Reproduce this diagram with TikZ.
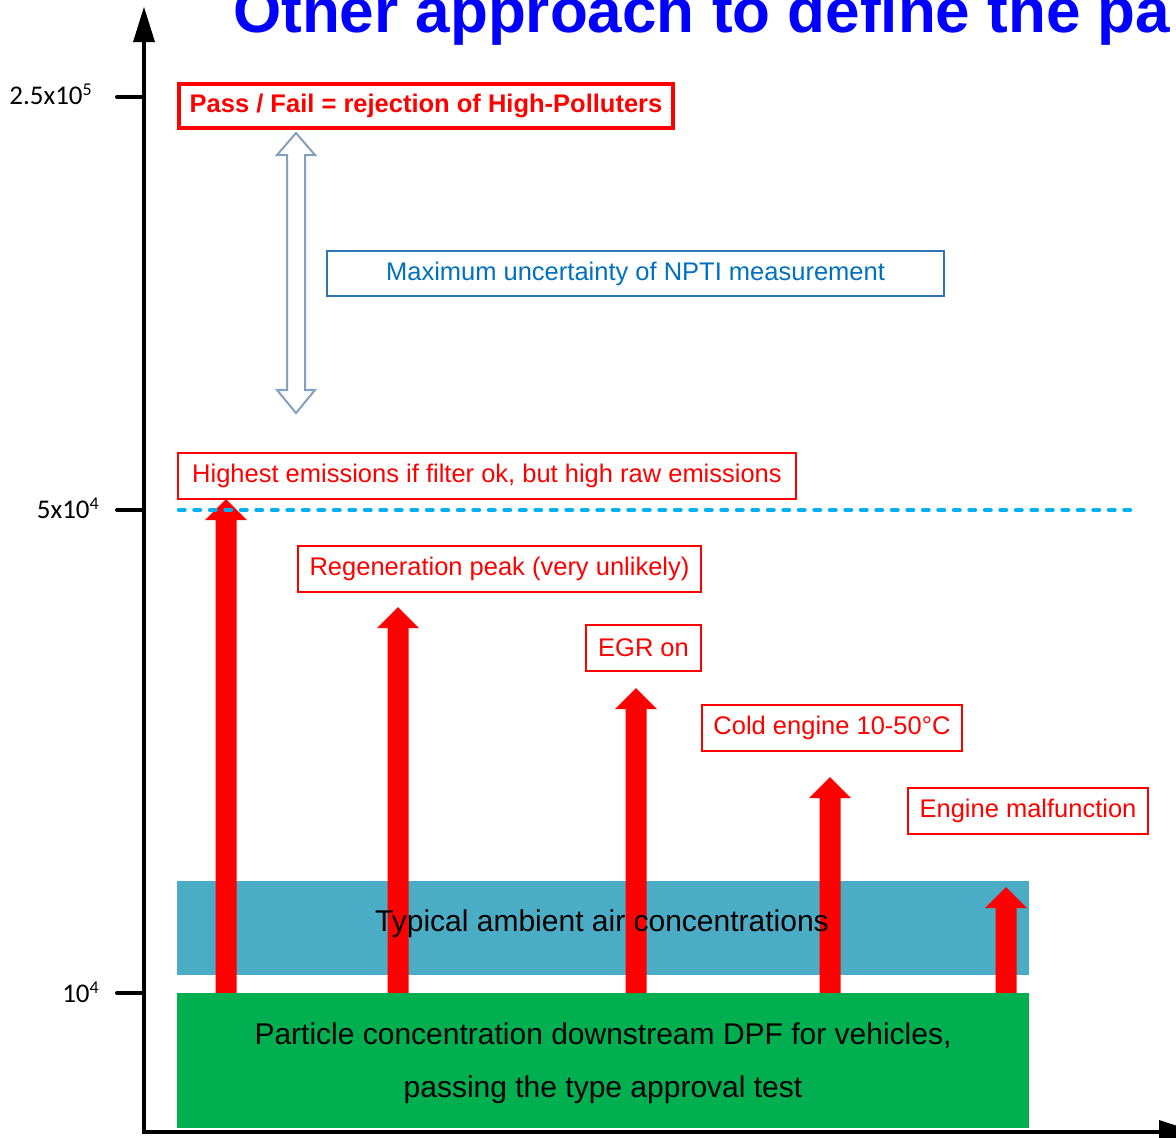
\documentclass[tikz,border=0pt]{standalone}
\usepackage{fontspec}
\setmainfont{Liberation Sans}
\newfontfamily\calfont{Carlito}
\definecolor{titleblue}{RGB}{0,0,255}
\definecolor{boxred}{RGB}{255,0,0}
\definecolor{ublue}{RGB}{0,112,192}
\definecolor{ubord}{RGB}{46,117,182}
\definecolor{dblarrow}{RGB}{132,160,188}
\definecolor{dotblue}{RGB}{0,176,240}
\definecolor{ambient}{RGB}{75,172,198}
\definecolor{dpfgreen}{RGB}{0,176,80}
\newcommand{\fatup}[3]{%
  \fill[red] (#1-10.5,#3) -- (#1-10.5,#2+21) -- (#1-21,#2+21) -- (#1,#2)
    -- (#1+21,#2+21) -- (#1+10.5,#2+21) -- (#1+10.5,#3) -- cycle;}
\tikzset{
  lbl/.style={draw=boxred, line width=2pt, fill=white, text=boxred,
    font=\fontsize{25.5}{30}\selectfont, inner sep=0pt, outer sep=0pt},
  axis/.style={line width=4pt},
  tick/.style={line width=4pt, line cap=round},
  ticklbl/.style={anchor=base east, inner sep=0pt, font=\calfont\fontsize{27}{30}\selectfont},
}
\newcommand{\supx}[1]{\raisebox{9pt}{\fontsize{18}{18}\selectfont #1}}
\begin{document}
\begin{tikzpicture}[x=1pt,y=-1pt]
\useasboundingbox (0,0) rectangle (1176,1138);
\clip (0,0) rectangle (1176,1138);
% title
\node[anchor=base west, inner sep=0pt, text=titleblue,
  font=\fontsize{62}{72}\selectfont\bfseries] (title) at (233,32) {Other approach to define the pa};
% ambient band
\fill[ambient] (177,881) rectangle (1029,975);
% red arrows
\fatup{226}{499}{995}
\fatup{398}{607}{995}
\fatup{636}{688}{995}
\fatup{830}{777}{995}
\fatup{1006}{887}{995}
\node[font=\fontsize{30}{34}\selectfont] (amb) at (602,924) {Typical ambient air concentrations};
% green band
\fill[dpfgreen] (177,993) rectangle (1029,1128);
\node[inner sep=0pt, align=center, font=\fontsize{30}{53}\selectfont] (dpf) at (603,1063)
  {Particle concentration downstream DPF for vehicles,\\passing the type approval test};
% axes
\draw[axis] (144,1132) -- (144,38);
\fill (144,7) -- (155,42) -- (133,42) -- cycle;
\draw[axis] (142,1132) -- (1162,1132);
\fill (1159,1120) -- (1196,1132) -- (1159,1144) -- cycle;
% ticks
\draw[tick] (117,97) -- (144,97);
\draw[tick] (117,510) -- (144,510);
\draw[tick] (117,993) -- (144,993);
\node[ticklbl] (t1) at (92,104) {2.5x10\supx{5}};
\node[ticklbl] (t2) at (99,518) {5x10\supx{4}};
\node[ticklbl] (t3) at (99,1002) {10\supx{4}};
% dotted line
\draw[dotblue, line width=4.5pt, line cap=round, dash pattern=on 5.5pt off 10pt] (179,510) -- (1136,510);
% double arrow
\draw[dblarrow, line width=2pt, fill=white, line join=miter]
  (296,133) -- (315,155) -- (305,155) -- (305,390) -- (315,390) -- (296,413)
  -- (277,390) -- (287,390) -- (287,155) -- (277,155) -- cycle;
% boxes
\node[lbl, line width=4.5pt, minimum width=494pt, minimum height=44pt,
  font=\fontsize{25.5}{30}\selectfont\bfseries] (pf) at (426,106) {Pass / Fail = rejection of High-Polluters};
\node[lbl, draw=ubord, text=ublue, minimum width=617pt, minimum height=45pt] (unc) at (635.5,273.5) {Maximum uncertainty of NPTI measurement};
\node[lbl, minimum width=618pt, minimum height=46pt] (hi) at (487,476) {Highest emissions if filter ok, but high raw emissions};
\node[lbl, minimum width=403pt, minimum height=46pt] (reg) at (499.5,569) {Regeneration peak (very unlikely)};
\node[lbl, minimum width=115pt, minimum height=46pt] (egr) at (643.5,648) {EGR on};
\node[lbl, minimum width=260pt, minimum height=46pt] (cold) at (832,728) {Cold engine 10-50°C};
\node[lbl, minimum width=240pt, minimum height=46pt] (mal) at (1028,811) {Engine malfunction};
\end{tikzpicture}
\end{document}
